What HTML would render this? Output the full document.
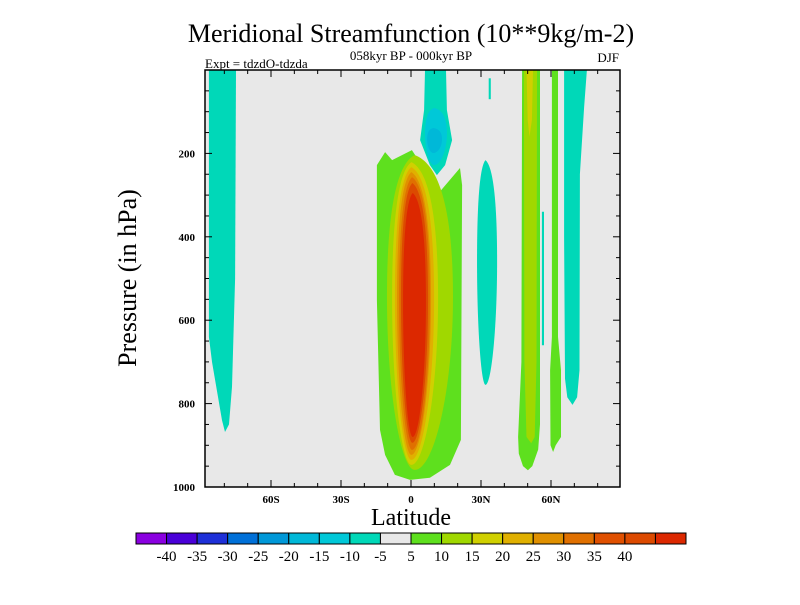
<!DOCTYPE html>
<html><head><meta charset="utf-8"><style>
body{margin:0;background:#fff;}
svg text{font-family:"Liberation Serif",serif;}
</style></head><body>
<svg id="chart" width="800" height="600" viewBox="0 0 800 600" xmlns="http://www.w3.org/2000/svg">
<text x="411" y="42" font-size="26" text-anchor="middle">Meridional Streamfunction (10**9kg/m-2)</text>
<text x="411" y="60" font-size="13" text-anchor="middle">058kyr BP - 000kyr BP</text>
<text x="205" y="68" font-size="13">Expt = tdzdO-tdzda</text>
<text x="619" y="62" font-size="13" text-anchor="end">DJF</text>
<text transform="translate(136,278) rotate(-90)" font-size="26" text-anchor="middle">Pressure (in hPa)</text>
<text x="411" y="525" font-size="24" text-anchor="middle">Latitude</text>
<g id="plot"></g>
<g id="cbar"></g>
</svg>
<script>
const levelColors18=["#8a00e0","#4a00d8","#1e30d8","#0070d8","#0098d8","#00b8d8","#00c8d8","#00d8b8","#e8e8e8","#5ee01e","#a0d800","#d0d000","#e0b000","#e09000","#e07000","#e05000","#dc4a00","#dc2800"];
const cbarLabels=["-40","-35","-30","-25","-20","-15","-10","-5","5","10","15","20","25","30","35","40"];
const xTickLats=[-60,-30,0,30,60];
const xTickLabels=["60S","30S","0","30N","60N"];
const yTickVals=[200,400,600,800,1000];
// polygon contour regions: level index + [lat,p] vertices
const polyLevels=[9,7,7,9,10,11,9,7,7,7];
const polyShapes=[
[[-14.6,228],[-11.1,197],[-8.1,216],[0.4,192],[6.0,240],[11.1,300],[21.0,235],[21.9,276],[21.4,887],[16.7,947],[8.1,978],[-0.4,983],[-6.9,971],[-11.1,923],[-13.3,863],[-14.6,552]],
[[6.0,0],[15.0,0],[15.4,96],[17.6,168],[14.6,228],[11.1,252],[8.1,228],[3.9,168],[5.6,96]],
[[-86.6,0],[-75,0],[-75.4,500],[-76.7,760],[-78,850],[-79.7,868],[-81,840],[-85.3,700],[-86.6,640]],
[[47.6,0],[55.3,0],[55.3,850],[54.5,910],[52,950],[50.1,960],[48,950],[46.2,920],[45.9,880],[47.3,700]],
[[48.4,0],[54,0],[53.8,700],[53,880],[51.5,895],[49.5,880],[48.6,700]],
[[49.5,0],[52.3,0],[51.8,120],[50.8,160],[50,120]],
[[60.4,0],[63,0],[63,640],[64.3,720],[64.3,880],[62,900],[60.9,916],[59.8,900],[59.6,720],[60.4,640]],
[[65.6,0],[75.4,0],[74.2,90],[72.4,250],[72.2,720],[71.2,785],[69.2,803],[67,785],[66,740],[65.6,400]],
[[56.1,340],[57.0,340],[57.0,660],[56.1,660]],
[[33.3,20],[34.2,20],[34.2,70],[33.3,70]]
];
// lens contour regions: level index + [latLeft, latRight, pTop, pBottom]
const lensLevels=[10,11,12,13,14,16,17,6,5,7];
const lensBounds=[
[-10.3,18.0,204,959],[-8.1,11.6,221,947],[-6.9,9.9,233,935],[-6.0,8.6,245,923],
[-5.1,8.1,257,911],[-4.3,7.3,271,894],[-3.4,6.4,295,880],
[6.0,15.4,91,228],[6.9,13.3,139,199],[28.3,36.9,216,755]
];
const X0=205,X1=620;
const xs=lat=>411+lat*(70/30);
const ys=p=>70+p*(417/1000);
const svg=document.getElementById('chart');
const NS="http://www.w3.org/2000/svg";
const plot=document.getElementById('plot');
function mk(tag,attrs,parent){const e=document.createElementNS(NS,tag);for(const k in attrs)e.setAttribute(k,attrs[k]);parent.appendChild(e);return e;}
const clip=mk('clipPath',{id:'pc'},svg);mk('rect',{x:X0,y:70,width:X1-X0,height:417},clip);
const bg=mk('rect',{x:X0,y:70,width:X1-X0,height:417,fill:"#e8e8e8"},plot);


const g=mk('g',{'clip-path':'url(#pc)'},plot);
function drawPoly(i){
  const pts=polyShapes[i].map(d=>xs(d[0]).toFixed(1)+","+ys(d[1]).toFixed(1)).join(" ");
  const e=mk('polygon',{points:pts,fill:levelColors18[polyLevels[i]]},g);
  
  
}
function drawLens(i){
  const b=lensBounds[i];const L=xs(b[0]),R=xs(b[1]),T=ys(b[2]),B=ys(b[3]);
  const cx=(L+R)/2-(R-L)*0.08,h=B-T,m=T+h*0.45;
  const d=`M${cx},${T} C${cx+(R-cx)*0.7},${T+h*0.03} ${R},${T+h*0.2} ${R},${m} C${R},${T+h*0.75} ${cx+(R-cx)*0.5},${B} ${cx},${B} C${cx-(cx-L)*0.5},${B} ${L},${T+h*0.75} ${L},${m} C${L},${T+h*0.2} ${cx-(cx-L)*0.7},${T+h*0.03} ${cx},${T} Z`;
  const e=mk('path',{d:d,fill:levelColors18[lensLevels[i]]},g);
  
  
}
drawPoly(0);
for(let i=0;i<7;i++)drawLens(i);
drawPoly(1);drawLens(7);drawLens(8);
for(let i=2;i<polyShapes.length;i++)drawPoly(i);
drawLens(9);
const fr=mk('rect',{x:X0,y:70,width:X1-X0,height:417,fill:"none",stroke:"#000","stroke-width":1.5},plot);


const tk=mk('g',{stroke:"#000","stroke-width":1},plot);
for(let lat=-80;lat<=80;lat+=10){const x=xs(lat);const L=(lat%30===0)?7:4;
  mk('line',{x1:x,y1:487,x2:x,y2:487-L},tk);mk('line',{x1:x,y1:70,x2:x,y2:70+L},tk);}
for(let p=50;p<1000;p+=50){const y=ys(p);const L=(p%200===0)?7:4;
  mk('line',{x1:X0,y1:y,x2:X0+L,y2:y},tk);mk('line',{x1:X1,y1:y,x2:X1-L,y2:y},tk);}
xTickLats.forEach((lat,i)=>{const t=mk('text',{x:xs(lat),y:503,'font-size':11,'font-weight':'bold','text-anchor':'middle'},plot);t.textContent=xTickLabels[i];
  
  });
yTickVals.forEach(v=>{const t=mk('text',{x:X0-10,y:ys(v)+4,'font-size':11,'font-weight':'bold','text-anchor':'end'},plot);t.textContent=v;
  
  });
const cb=document.getElementById('cbar');


const CB0=136,CB1=686,bw=(CB1-CB0)/18;
levelColors18.forEach((c,i)=>{const r=mk('rect',{x:CB0+i*bw,y:533,width:bw,height:11,fill:c,stroke:"#000","stroke-width":1},cb);
  
  });
cbarLabels.forEach((s,i)=>{const t=mk('text',{x:CB0+(i+1)*bw,y:561,'font-size':15,'text-anchor':'middle'},cb);t.textContent=s;
  
  });
</script>
</body></html>
